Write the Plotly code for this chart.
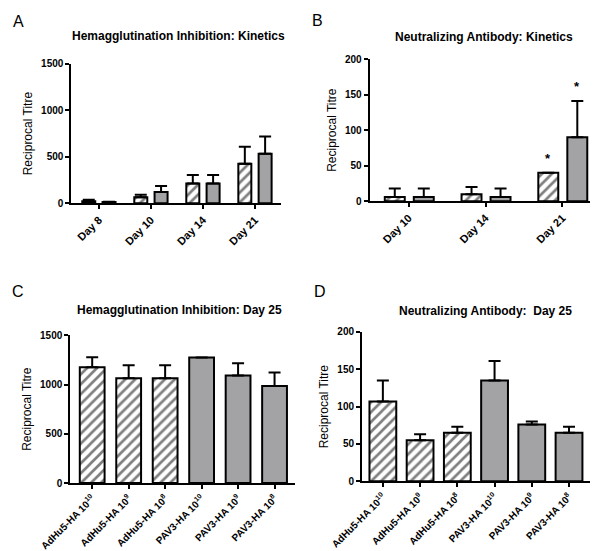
import plotly.graph_objects as go

# ---------------- data ----------------
kin_hi_days = ["Day 8", "Day 10", "Day 14", "Day 21"]
adhu_hi_kin = [22, 65, 212, 425]
adhu_hi_kin_err = [17, 28, 93, 183]
pav_hi_kin = [14, 122, 212, 532]
pav_hi_kin_err = [3, 65, 93, 186]

kin_nab_days = ["Day 10", "Day 14", "Day 21"]
adhu_nab_kin = [6, 10, 40]
adhu_nab_kin_err = [12, 10, 0]
pav_nab_kin = [6, 6, 90]
pav_nab_kin_err = [12, 12, 51]

adhu_groups = ["AdHu5-HA 10<sup>10</sup>", "AdHu5-HA 10<sup>9</sup>", "AdHu5-HA 10<sup>8</sup>"]
pav_groups = ["PAV3-HA 10<sup>10</sup>", "PAV3-HA 10<sup>9</sup>", "PAV3-HA 10<sup>8</sup>"]
adhu_hi_d25 = [1176, 1064, 1064]
adhu_hi_d25_err = [101, 132, 132]
pav_hi_d25 = [1274, 1091, 986]
pav_hi_d25_err = [0, 125, 136]

adhu_nab_d25 = [107, 55, 65]
adhu_nab_d25_err = [28, 8, 8]
pav_nab_d25 = [135, 76, 65]
pav_nab_d25_err = [26, 4, 8]

# ---------------- styles ----------------
FONT = "Liberation Sans"
GRAY = "#a3a3a6"
hatch = dict(shape="/", fgcolor="black", bgcolor="white", size=7, solidity=0.38)
outline = dict(color="black", width=2)


def err(vals):
    return dict(type="data", array=vals, arrayminus=[0] * len(vals), symmetric=False,
                color="black", thickness=2, width=6)


fig = go.Figure()

# Panel A
A_OFF_H, A_OFF_G, A_W = -0.32, 0.07, 0.25
fig.add_trace(go.Bar(x=kin_hi_days, y=adhu_hi_kin, error_y=err(adhu_hi_kin_err),
                     marker=dict(color="white", pattern=hatch, line=outline),
                     offset=A_OFF_H, width=A_W, xaxis="x", yaxis="y"))
fig.add_trace(go.Bar(x=kin_hi_days, y=pav_hi_kin, error_y=err(pav_hi_kin_err),
                     marker=dict(color=GRAY, line=outline),
                     offset=A_OFF_G, width=A_W, xaxis="x", yaxis="y"))

# Panel B
B_OFF_H, B_OFF_G, B_W = -0.313, 0.065, 0.26
fig.add_trace(go.Bar(x=kin_nab_days, y=adhu_nab_kin, error_y=err(adhu_nab_kin_err),
                     marker=dict(color="white", pattern=hatch, line=outline),
                     offset=B_OFF_H, width=B_W, xaxis="x2", yaxis="y2"))
fig.add_trace(go.Bar(x=kin_nab_days, y=pav_nab_kin, error_y=err(pav_nab_kin_err),
                     marker=dict(color=GRAY, line=outline),
                     offset=B_OFF_G, width=B_W, xaxis="x2", yaxis="y2"))

# Panel C
fig.add_trace(go.Bar(x=adhu_groups, y=adhu_hi_d25, error_y=err(adhu_hi_d25_err),
                     marker=dict(color="white", pattern=hatch, line=outline),
                     width=0.68, xaxis="x3", yaxis="y3"))
fig.add_trace(go.Bar(x=pav_groups, y=pav_hi_d25, error_y=err(pav_hi_d25_err),
                     marker=dict(color=GRAY, line=outline),
                     width=0.68, xaxis="x3", yaxis="y3"))

# Panel D
fig.add_trace(go.Bar(x=adhu_groups, y=adhu_nab_d25, error_y=err(adhu_nab_d25_err),
                     marker=dict(color="white", pattern=hatch, line=outline),
                     width=0.72, xaxis="x4", yaxis="y4"))
fig.add_trace(go.Bar(x=pav_groups, y=pav_nab_d25, error_y=err(pav_nab_d25_err),
                     marker=dict(color=GRAY, line=outline),
                     width=0.72, xaxis="x4", yaxis="y4"))

tickfont = dict(family=FONT, size=10, color="black", weight="bold")


def xax(domain, rng, cats, fsize):
    return dict(domain=domain, range=rng, type="category", categoryorder="array",
                categoryarray=cats, showline=True, linecolor="black", linewidth=2,
                ticks="outside", ticklen=4, tickwidth=2, tickcolor="black",
                tickangle=-45, tickfont=dict(family=FONT, size=fsize, color="black", weight="bold"),
                showgrid=False, zeroline=False, fixedrange=True, automargin=False)


def yax(domain, rng, tv, anchor):
    return dict(domain=domain, range=rng, tickvals=tv, showline=True, linecolor="black",
                linewidth=2, ticks="outside", ticklen=4, tickwidth=2, tickcolor="black",
                tickfont=tickfont, showgrid=False, zeroline=False, anchor=anchor,
                automargin=False,
                title=dict(text="Reciprocal Titre", font=dict(family=FONT, size=12, color="black"),
                           standoff=6))


fig.update_layout(
    width=598, height=551, margin=dict(l=0, r=0, t=0, b=0, autoexpand=False),
    paper_bgcolor="white", plot_bgcolor="white", showlegend=False, barmode="overlay",
    xaxis=dict(xax([0.1059, 0.4565], [-0.53, 3.5], kin_hi_days, 11), anchor="y"),
    yaxis=yax([0.6456, 0.8984], [0, 1500], [0, 500, 1000, 1500], "x"),
    xaxis2=dict(xax([0.6048, 0.9950], [-0.51, 2.53], kin_nab_days, 11), anchor="y2"),
    yaxis2=yax([0.6492, 0.9074], [0, 200], [0, 50, 100, 150, 200], "x2"),
    xaxis3=dict(xax([0.1042, 0.4799], [-0.6, 5.56], adhu_groups + pav_groups, 10), anchor="y3"),
    yaxis3=yax([0.1379, 0.4060], [0, 1500], [0, 500, 1000, 1500], "x3"),
    xaxis4=dict(xax([0.5920, 0.9749], [-0.56, 5.59], adhu_groups + pav_groups, 10), anchor="y4"),
    yaxis4=yax([0.1410, 0.4120], [0, 200], [0, 50, 100, 150, 200], "x4"),
)

titles = [
    ("Hemagglutination Inhibition: Kinetics", 0.285, 0.949),
    ("Neutralizing Antibody: Kinetics", 0.796, 0.947),
    ("Hemagglutination Inhibition: Day 25", 0.2876, 0.452),
    ("Neutralizing Antibody:  Day 25", 0.7977, 0.450),
]
for txt, x, y in titles:
    fig.add_annotation(text=txt, x=x, y=y, xref="paper", yref="paper", showarrow=False,
                       xanchor="center", yanchor="middle",
                       font=dict(family=FONT, size=12, color="black", weight="bold"))

letters = [("A", 0.005, 0.975), ("B", 0.505, 0.977), ("C", 0.004, 0.486), ("D", 0.508, 0.486)]
for txt, x, y in letters:
    fig.add_annotation(text=txt, x=x, y=y, xref="paper", yref="paper", showarrow=False,
                       xanchor="left", yanchor="middle",
                       font=dict(family=FONT, size=16, color="black"))

# significance stars over Day 21 bars in panel B
star_idx = kin_nab_days.index("Day 21")
for off, vals, errs in [(B_OFF_H, adhu_nab_kin, adhu_nab_kin_err),
                        (B_OFF_G, pav_nab_kin, pav_nab_kin_err)]:
    fig.add_annotation(text="*", x=star_idx + off + B_W / 2,
                       y=vals[star_idx] + errs[star_idx], xref="x2", yref="y2",
                       showarrow=False, yanchor="bottom", yshift=5,
                       font=dict(family=FONT, size=13, color="black", weight="bold"))

fig.write_html("out.html")
